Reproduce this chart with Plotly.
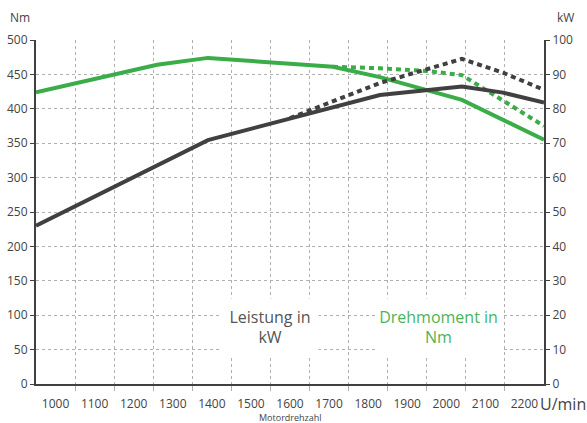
import plotly.graph_objects as go

# Torque (Nm, left axis)
torque_x = [950, 1260, 1390, 1710, 1830, 1950, 2040, 2250]
torque_y = [424, 464, 474, 461, 446, 428, 413, 355]
torque_dot_x = [1710, 1830, 1950, 2040, 2250]
torque_dot_y = [461, 459, 455, 449, 375]

# Power (kW, right axis)
power_x = [950, 1390, 1830, 2040, 2145, 2250]
power_y = [46, 70.9, 84, 86.5, 84.7, 81.8]
power_dot_x = [1600, 1830, 2040, 2145, 2250]
power_dot_y = [77.3, 87.5, 94.5, 90.5, 85.5]

x_ticks = [1000, 1100, 1200, 1300, 1400, 1500, 1600, 1700, 1800, 1900, 2000, 2100, 2200]
x_grid = [1050, 1150, 1250, 1350, 1450, 1550, 1650, 1750, 1850, 1950, 2050, 2150]

GREEN = "#3aac48"
DARK = "#404040"
TXT = "#444444"
GRID = "#b0b0b0"
FONT = "Open Sans"

fig = go.Figure()
fig.add_trace(go.Scatter(x=torque_dot_x, y=torque_dot_y, mode="lines",
                         line=dict(color=GREEN, width=4, dash="5px,4px"), yaxis="y"))
fig.add_trace(go.Scatter(x=torque_x, y=torque_y, mode="lines",
                         line=dict(color=GREEN, width=4), yaxis="y"))
fig.add_trace(go.Scatter(x=power_dot_x, y=power_dot_y, mode="lines",
                         line=dict(color=DARK, width=4, dash="5px,4px"), yaxis="y2"))
fig.add_trace(go.Scatter(x=power_x, y=power_y, mode="lines",
                         line=dict(color=DARK, width=4), yaxis="y2"))

fig.update_layout(
    width=587, height=423,
    margin=dict(l=36, r=43, t=40, b=39),
    paper_bgcolor="white", plot_bgcolor="white",
    showlegend=False,
    font=dict(family=FONT, size=12, color=TXT),
    xaxis=dict(
        range=[950, 2250], tickvals=x_ticks, ticktext=[str(v) for v in x_ticks],
        showgrid=False, zeroline=False, ticks="", ticklabelstandoff=8, automargin=False,
        showline=True, linecolor=DARK, linewidth=2,
        tickfont=dict(size=12, color=TXT),
        minor=dict(tickvals=x_grid, showgrid=True, gridcolor=GRID, griddash="dot",
                   gridwidth=1, ticks="outside", ticklen=5, tickcolor=GRID, tickwidth=1),
    ),
    yaxis=dict(
        range=[0, 500], dtick=50, showgrid=True, gridcolor=GRID, griddash="dot",
        gridwidth=1, zeroline=False, showline=True, linecolor=DARK, linewidth=2,
        automargin=False, ticks="outside", ticklen=4, tickcolor=DARK,
        tickfont=dict(size=12, color=TXT),
    ),
    yaxis2=dict(
        range=[0, 100], dtick=10, overlaying="y", side="right", showgrid=False,
        zeroline=False, showline=True, linecolor=DARK, linewidth=2, automargin=False,
        ticks="outside", ticklen=4, tickcolor=DARK, tickfont=dict(size=12, color=TXT),
    ),
)

fig.add_annotation(xref="paper", yref="paper", x=0, y=1.0, xshift=-28, yshift=23,
                   text="Nm", showarrow=False, xanchor="left", yanchor="middle",
                   font=dict(size=12, color=TXT))
fig.add_annotation(xref="paper", yref="paper", x=1.0, y=1.0, xshift=11, yshift=23,
                   text="kW", showarrow=False, xanchor="left", yanchor="middle",
                   font=dict(size=12, color=TXT))
fig.add_annotation(xref="paper", yref="paper", x=1.0, y=0, xshift=-6, yshift=-20,
                   text="U/min", showarrow=False, xanchor="left", yanchor="middle",
                   font=dict(size=16, color=TXT))
fig.add_annotation(xref="paper", yref="paper", x=0.5, y=0, yshift=-33,
                   text="Motordrehzahl", showarrow=False, xanchor="center", yanchor="middle",
                   font=dict(size=9, color=TXT))
fig.add_annotation(x=1550, y=82.5, xref="x", yref="y",
                   text="Leistung in<br>kW", showarrow=False, align="center",
                   bgcolor="white", width=92, height=52, borderpad=2,
                   font=dict(size=16, color="#555555"))
fig.add_annotation(x=1980, y=82.5, xref="x", yref="y",
                   text="Drehmoment in<br>Nm", showarrow=False, align="center",
                   bgcolor="white", width=121, height=52, borderpad=2,
                   font=dict(size=16, color="#4cb35a"))

fig.write_html("out.html", config={"displayModeBar": False},
               post_script="document.body.style.margin='0';")
